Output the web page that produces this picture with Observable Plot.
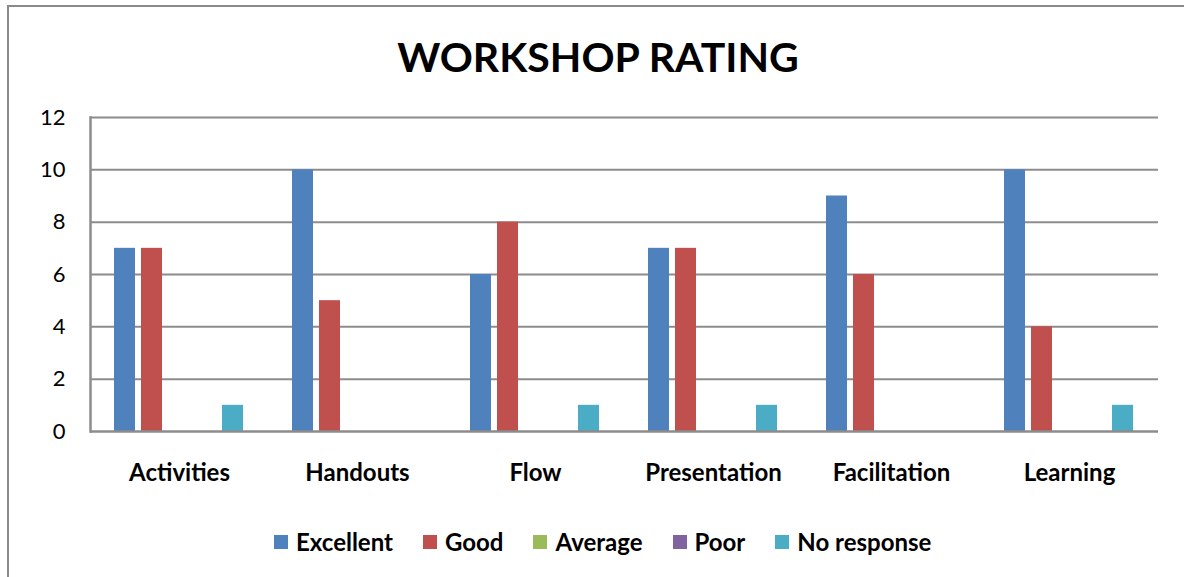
<!DOCTYPE html>
<html>
<head>
<meta charset="utf-8">
<script src="https://cdn.jsdelivr.net/npm/d3@7"></script>
<script src="https://cdn.jsdelivr.net/npm/@observablehq/plot@0.6"></script>
<style>
  html, body { margin: 0; padding: 0; background: #fff; width: 1184px; height: 577px; overflow: hidden; }
  body { position: relative; font-family: Lato, "Open Sans", sans-serif; color: #000; padding-top: 7px; box-sizing: border-box; }
  #frame { position: absolute; left: 7px; top: 5px; width: 1200px; height: 600px;
           border-left: 2px solid #8a8a8a; border-top: 2px solid #8a8a8a; pointer-events: none; }
  #title { height: 90px; line-height: 100px; text-align: center; font-weight: bold; font-size: 41px;
           padding-left: 12px; white-space: nowrap; }
  #chart svg { display: block; overflow: visible; }
  #legend { display: flex; justify-content: flex-start; align-items: center; padding-left: 274px;
            margin-top: 38px; font-weight: bold; font-size: 24px; line-height: 26px; }
  .item { display: flex; align-items: center; margin-right: 30px; }
  .sw { width: 14px; height: 14px; margin-right: 8px; }
</style>
</head>
<body>
<div id="frame"></div>
<div id="title">WORKSHOP RATING</div>
<div id="chart"></div>
<div id="legend"></div>
<script>
const categories = ["Activities", "Handouts", "Flow", "Presentation", "Facilitation", "Learning"];
const seriesNames = ["Excellent", "Good", "Average", "Poor", "No response"];
const seriesColors = ["#4F81BD", "#C0504D", "#9BBB59", "#8064A2", "#4BACC6"];
const excellent  = [7, 10, 6, 7, 9, 10];
const good       = [7, 5, 8, 7, 6, 4];
const average    = [0, 0, 0, 0, 0, 0];
const poor       = [0, 0, 0, 0, 0, 0];
const noResponse = [1, 0, 1, 1, 0, 1];
const yTicks = [0, 2, 4, 6, 8, 10, 12];

const seriesValues = [excellent, good, average, poor, noResponse];
const table = [];
categories.forEach((c, i) => {
  seriesNames.forEach((s, j) => table.push({category: c, series: s, value: seriesValues[j][i]}));
});

const chart = Plot.plot({
  width: 1184,
  height: 394,
  marginLeft: 88,
  marginRight: 24,
  marginTop: 20,
  marginBottom: 60,
  style: {fontFamily: "Lato, 'Open Sans', sans-serif", fontSize: "22px", color: "#000", background: "transparent"},
  fx: {domain: categories, padding: 0, label: null},
  x: {domain: seriesNames, paddingInner: 0.22, paddingOuter: 0.86, axis: null},
  y: {domain: [0, 12], ticks: yTicks, label: null},
  color: {domain: seriesNames, range: seriesColors},
  marks: [
    Plot.gridY(yTicks.filter(d => d > 0), {stroke: "#8c8c8c", strokeOpacity: 1, strokeWidth: 2}),
    Plot.barY(table, {fx: "category", x: "series", y: "value", fill: "series"}),
    Plot.ruleY([0], {stroke: "#8c8c8c", strokeWidth: 2.5}),
    Plot.frame({anchor: "left", stroke: "#8c8c8c", strokeWidth: 2.5, facet: "super"}),
    Plot.axisY(yTicks, {tickSize: 0, tickPadding: 25, fontSize: 22, label: null, fill: "#000"}),
    Plot.axisFx({anchor: "bottom", tickSize: 0, tickPadding: 32, fontSize: 24, fontWeight: "bold", label: null, fill: "#000"})
  ]
});
document.getElementById("chart").appendChild(chart);

const legend = document.getElementById("legend");
seriesNames.forEach((s, j) => {
  const item = document.createElement("div");
  item.className = "item";
  const sw = document.createElement("span");
  sw.className = "sw";
  sw.style.background = seriesColors[j];
  const lab = document.createElement("span");
  lab.textContent = s;
  item.appendChild(sw);
  item.appendChild(lab);
  legend.appendChild(item);
});
</script>
</body>
</html>
